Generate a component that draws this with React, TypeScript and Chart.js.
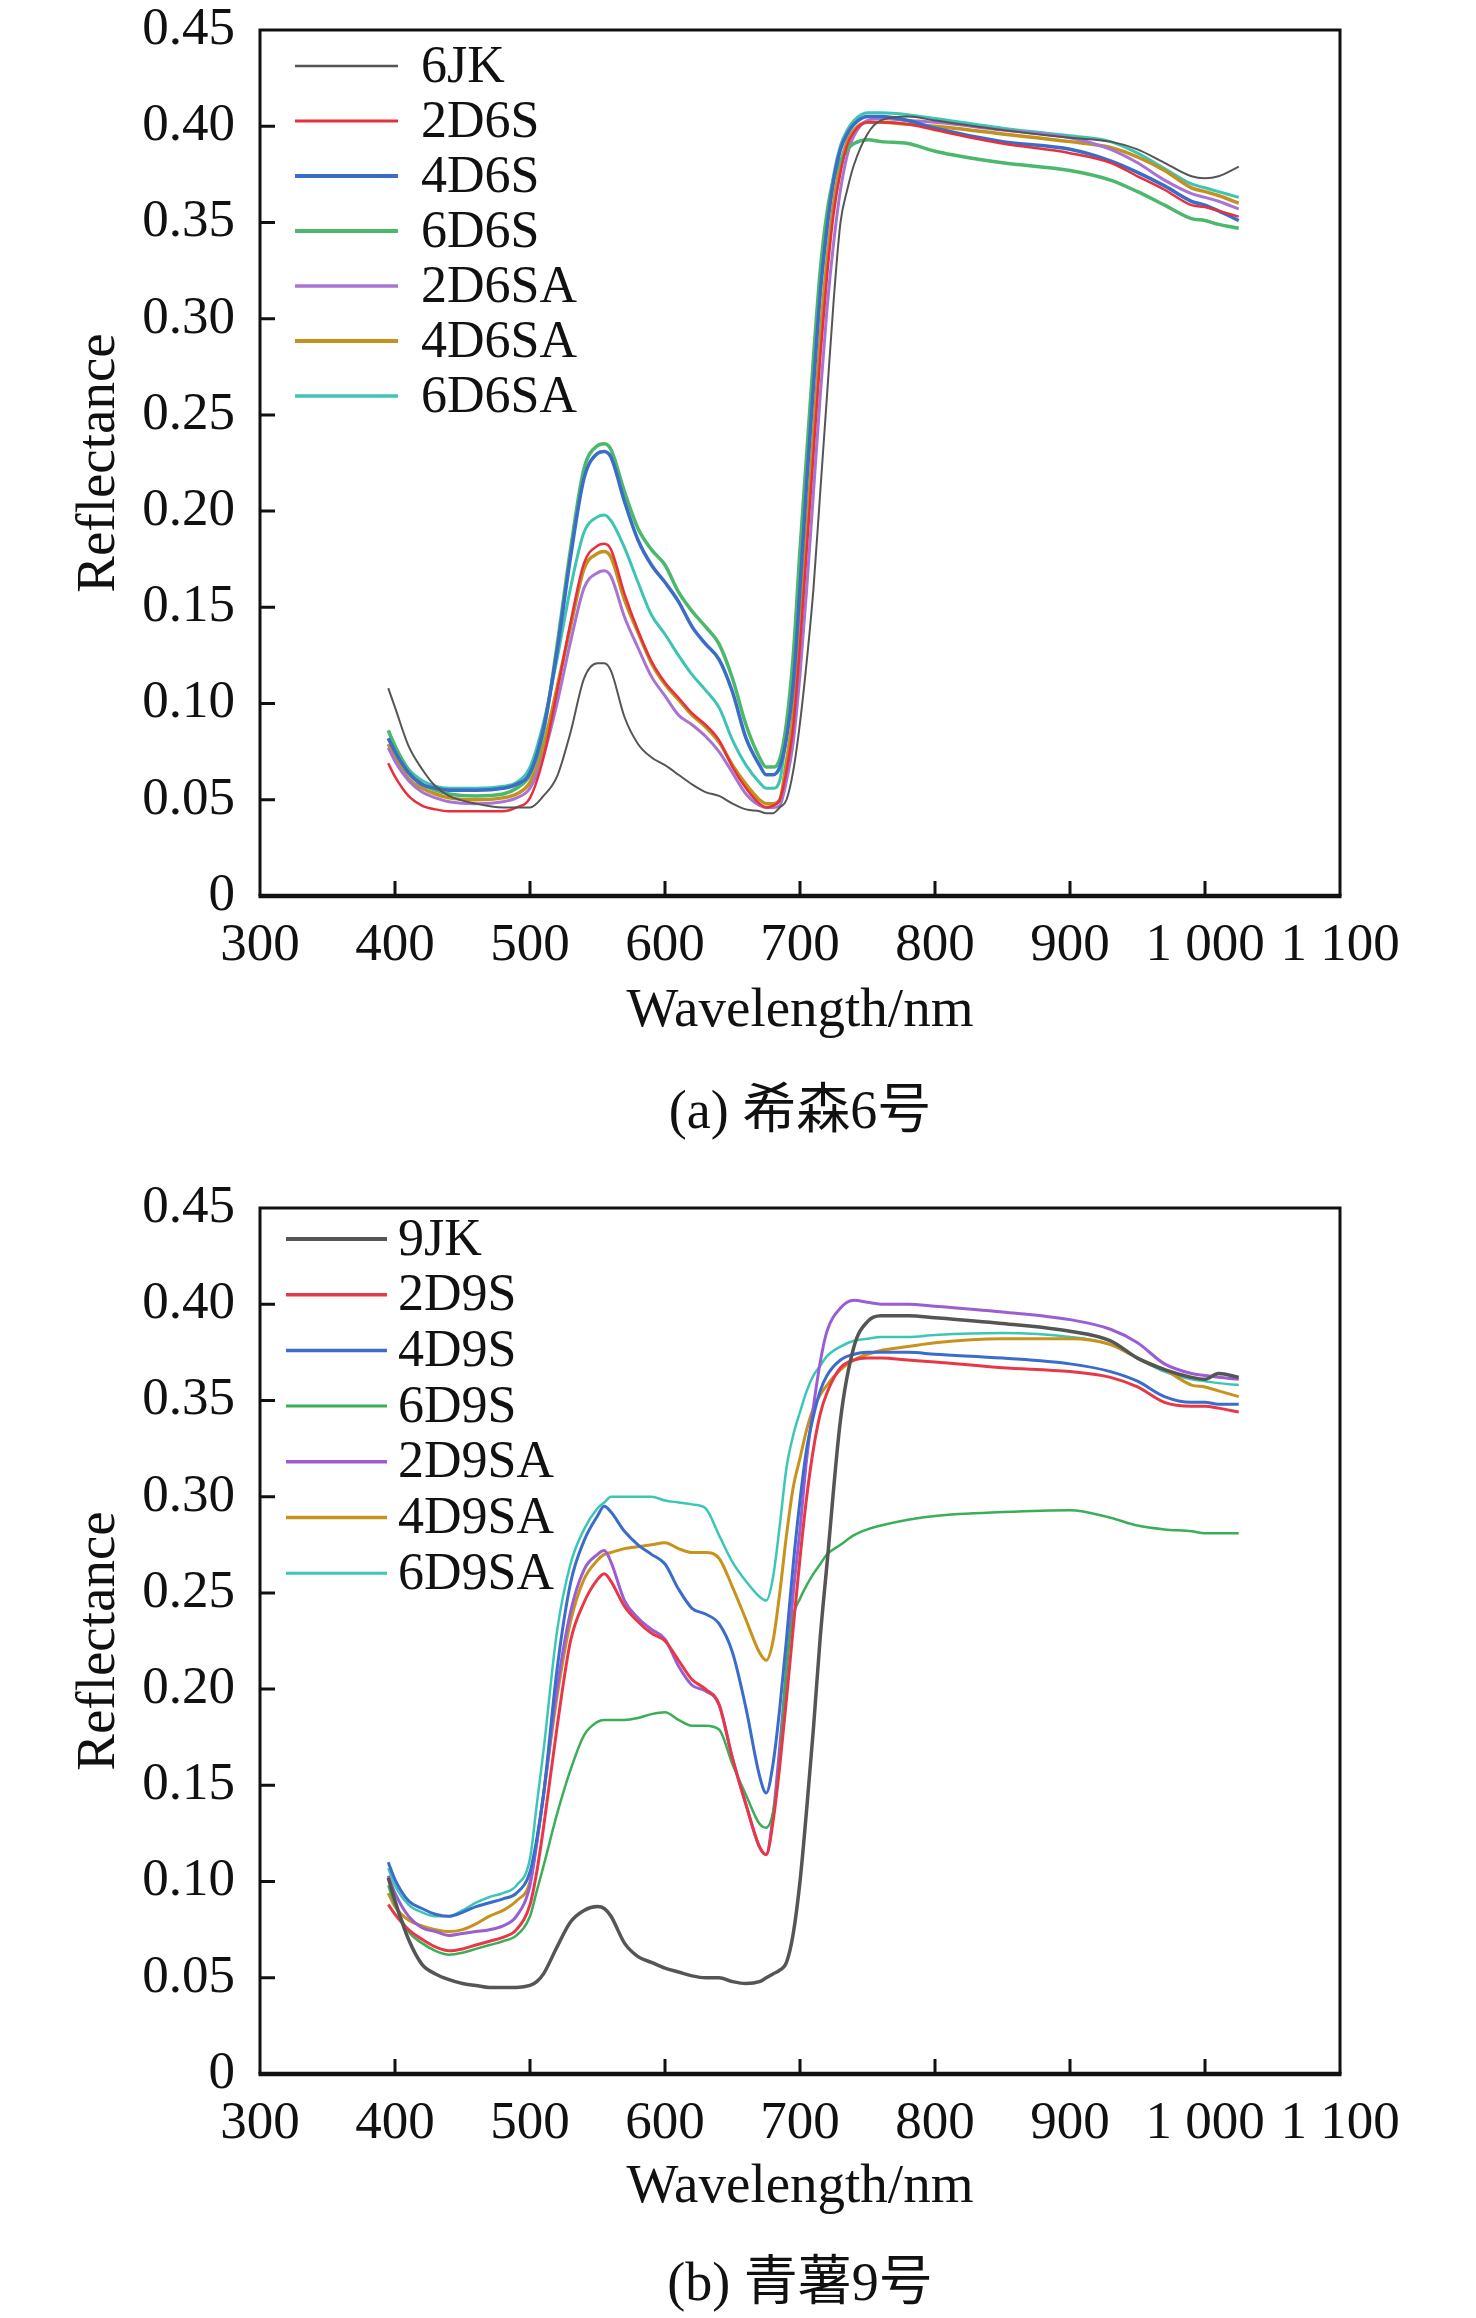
import React, { useEffect, useRef } from 'react';
import { Chart, registerables } from 'chart.js';

Chart.register(...registerables);

const FONT = "'Liberation Serif', 'Times New Roman', 'Noto Sans CJK SC', serif";

// (a) 希森6号
const wavelengthA = [395, 400, 410, 420, 430, 440, 460, 480, 490, 500, 510, 520, 530, 540, 550, 555, 560, 570, 580, 590, 600, 610, 620, 630, 640, 650, 660, 670, 675, 680, 685, 690, 695, 700, 705, 710, 715, 720, 725, 730, 735, 740, 750, 760, 780, 800, 850, 900, 930, 950, 970, 990, 1000, 1010, 1025];
const s6JK = [0.108, 0.098, 0.078, 0.066, 0.057, 0.052, 0.048, 0.046, 0.046, 0.046, 0.052, 0.062, 0.085, 0.113, 0.121, 0.121, 0.117, 0.093, 0.079, 0.072, 0.068, 0.063, 0.058, 0.054, 0.052, 0.048, 0.045, 0.044, 0.043, 0.043, 0.046, 0.05, 0.065, 0.09, 0.122, 0.16, 0.21, 0.26, 0.31, 0.35, 0.367, 0.38, 0.396, 0.403, 0.405, 0.403, 0.398, 0.394, 0.392, 0.388, 0.381, 0.374, 0.373, 0.374, 0.379];
const s2D6S = [0.069, 0.062, 0.052, 0.047, 0.045, 0.044, 0.044, 0.044, 0.046, 0.051, 0.072, 0.106, 0.142, 0.173, 0.182, 0.183, 0.18, 0.157, 0.138, 0.122, 0.111, 0.103, 0.095, 0.089, 0.081, 0.067, 0.056, 0.048, 0.046, 0.047, 0.05, 0.065, 0.088, 0.13, 0.18, 0.23, 0.28, 0.322, 0.355, 0.376, 0.39, 0.397, 0.402, 0.402, 0.401, 0.398, 0.391, 0.386, 0.381, 0.374, 0.367, 0.359, 0.358, 0.356, 0.353];
const s4D6S = [0.082, 0.075, 0.064, 0.058, 0.056, 0.055, 0.055, 0.056, 0.058, 0.064, 0.087, 0.127, 0.176, 0.217, 0.23, 0.231, 0.228, 0.205, 0.185, 0.172, 0.163, 0.153, 0.14, 0.131, 0.123, 0.106, 0.082, 0.068, 0.063, 0.063, 0.067, 0.082, 0.11, 0.16, 0.215, 0.265, 0.313, 0.347, 0.372, 0.388, 0.396, 0.401, 0.405, 0.405, 0.403, 0.399, 0.392, 0.388, 0.382, 0.376, 0.369, 0.361, 0.359, 0.356, 0.351];
const s6D6S = [0.086, 0.078, 0.065, 0.058, 0.055, 0.053, 0.052, 0.053, 0.056, 0.063, 0.085, 0.13, 0.18, 0.222, 0.234, 0.235, 0.232, 0.21, 0.191, 0.18, 0.172, 0.158, 0.148, 0.14, 0.131, 0.113, 0.089, 0.072, 0.067, 0.067, 0.071, 0.09, 0.125, 0.18, 0.23, 0.28, 0.325, 0.355, 0.373, 0.382, 0.388, 0.391, 0.393, 0.392, 0.391, 0.387, 0.381, 0.377, 0.372, 0.366, 0.359, 0.352, 0.351, 0.349, 0.347];
const s2D6SA = [0.077, 0.07, 0.06, 0.054, 0.051, 0.049, 0.048, 0.049, 0.051, 0.056, 0.073, 0.1, 0.132, 0.16, 0.168, 0.169, 0.166, 0.145, 0.129, 0.114, 0.104, 0.094, 0.089, 0.083, 0.075, 0.064, 0.053, 0.047, 0.046, 0.046, 0.047, 0.06, 0.08, 0.115, 0.16, 0.21, 0.26, 0.305, 0.34, 0.367, 0.385, 0.395, 0.403, 0.404, 0.403, 0.402, 0.398, 0.394, 0.388, 0.381, 0.372, 0.365, 0.363, 0.361, 0.357];
const s4D6SA = [0.079, 0.072, 0.061, 0.056, 0.053, 0.051, 0.05, 0.051, 0.053, 0.059, 0.078, 0.108, 0.14, 0.17, 0.178, 0.179, 0.176, 0.154, 0.137, 0.121, 0.11, 0.102, 0.094, 0.088, 0.08, 0.068, 0.058, 0.05, 0.048, 0.048, 0.05, 0.07, 0.095, 0.14, 0.19, 0.24, 0.29, 0.33, 0.36, 0.38, 0.392, 0.398, 0.402, 0.402, 0.401, 0.4, 0.396, 0.392, 0.389, 0.384, 0.377, 0.368, 0.366, 0.364, 0.36];
const s6D6SA = [0.086, 0.078, 0.066, 0.06, 0.057, 0.056, 0.056, 0.057, 0.059, 0.067, 0.09, 0.123, 0.16, 0.189, 0.197, 0.198, 0.195, 0.181, 0.163, 0.146, 0.136, 0.125, 0.115, 0.107, 0.098, 0.081, 0.068, 0.059, 0.056, 0.056, 0.06, 0.085, 0.115, 0.165, 0.22, 0.27, 0.318, 0.35, 0.375, 0.39, 0.398, 0.403, 0.407, 0.407, 0.406, 0.404, 0.399, 0.395, 0.392, 0.386, 0.378, 0.37, 0.368, 0.366, 0.363];

// (b) 青薯9号
const wavelengthB = [395, 400, 410, 420, 430, 440, 450, 460, 470, 480, 490, 500, 505, 510, 520, 530, 540, 550, 555, 560, 570, 580, 590, 600, 610, 620, 630, 640, 650, 660, 670, 675, 680, 685, 690, 695, 700, 705, 710, 715, 720, 730, 740, 750, 760, 780, 800, 850, 900, 930, 950, 970, 990, 1000, 1010, 1025];
const s9JK = [0.102, 0.09, 0.07, 0.057, 0.052, 0.049, 0.047, 0.046, 0.045, 0.045, 0.045, 0.046, 0.048, 0.052, 0.066, 0.079, 0.085, 0.087, 0.086, 0.082, 0.068, 0.061, 0.058, 0.055, 0.053, 0.051, 0.05, 0.05, 0.048, 0.047, 0.048, 0.05, 0.052, 0.054, 0.058, 0.073, 0.1, 0.138, 0.18, 0.227, 0.265, 0.34, 0.378, 0.391, 0.394, 0.394, 0.393, 0.39, 0.386, 0.381, 0.372, 0.366, 0.362, 0.361, 0.364, 0.362];
const s2D9S = [0.088, 0.083, 0.075, 0.07, 0.066, 0.064, 0.065, 0.067, 0.069, 0.071, 0.075, 0.088, 0.105, 0.128, 0.18, 0.225, 0.245, 0.257, 0.26, 0.256, 0.243, 0.235, 0.229, 0.225, 0.215, 0.205, 0.2, 0.192, 0.164, 0.14, 0.118, 0.114, 0.131, 0.16, 0.195, 0.232, 0.268, 0.3, 0.325, 0.343, 0.354, 0.367, 0.371, 0.372, 0.372, 0.371, 0.37, 0.367, 0.365, 0.362, 0.357, 0.349, 0.347, 0.347, 0.346, 0.344];
const s4D9S = [0.11, 0.101, 0.09, 0.086, 0.083, 0.082, 0.084, 0.087, 0.089, 0.091, 0.094, 0.105, 0.122, 0.145, 0.21, 0.255, 0.277, 0.29, 0.295, 0.292, 0.282, 0.275, 0.27, 0.265, 0.252, 0.242, 0.239, 0.234, 0.219, 0.19, 0.155, 0.146, 0.161, 0.19, 0.226, 0.265, 0.298, 0.325, 0.342, 0.355, 0.363, 0.371, 0.374, 0.375, 0.375, 0.375, 0.374, 0.372, 0.369, 0.365, 0.36, 0.352, 0.349, 0.349, 0.348, 0.348];
const s6D9S = [0.098, 0.088, 0.074, 0.068, 0.064, 0.062, 0.063, 0.065, 0.067, 0.069, 0.072, 0.082, 0.095, 0.108, 0.135, 0.158, 0.176, 0.183, 0.184, 0.184, 0.184, 0.185, 0.187, 0.188, 0.184, 0.181, 0.181, 0.179, 0.161, 0.145, 0.13, 0.128, 0.136, 0.162, 0.212, 0.238, 0.247, 0.254, 0.26, 0.265, 0.27, 0.275, 0.28, 0.283, 0.285, 0.288, 0.29, 0.292, 0.293, 0.289, 0.285, 0.283, 0.282, 0.281, 0.281, 0.281];
const s2D9SA = [0.103, 0.094, 0.082, 0.076, 0.074, 0.072, 0.073, 0.074, 0.075, 0.077, 0.082, 0.098, 0.12, 0.145, 0.2, 0.24, 0.262, 0.27, 0.272, 0.266, 0.246, 0.237, 0.231, 0.226, 0.212, 0.202, 0.199, 0.192, 0.164, 0.14, 0.118, 0.114, 0.134, 0.17, 0.21, 0.25, 0.283, 0.32, 0.347, 0.37, 0.386, 0.398, 0.402, 0.401, 0.4, 0.4, 0.399, 0.396, 0.392, 0.387, 0.38, 0.369, 0.364, 0.363, 0.362, 0.361];
const s4D9SA = [0.094, 0.087, 0.08, 0.077, 0.075, 0.074, 0.075, 0.078, 0.082, 0.085, 0.09, 0.1, 0.12, 0.145, 0.196, 0.235, 0.257, 0.267, 0.27, 0.271, 0.273, 0.274, 0.275, 0.276, 0.273, 0.271, 0.271, 0.268, 0.253, 0.236, 0.219, 0.215, 0.225, 0.25, 0.28, 0.305, 0.32, 0.335, 0.346, 0.353, 0.358, 0.366, 0.371, 0.374, 0.376, 0.378, 0.38, 0.382, 0.382, 0.379, 0.372, 0.366, 0.358, 0.357, 0.355, 0.352];
const s6D9SA = [0.107, 0.098, 0.088, 0.084, 0.082, 0.082, 0.085, 0.089, 0.092, 0.094, 0.098, 0.112, 0.14, 0.168, 0.23, 0.265, 0.283, 0.294, 0.297, 0.3, 0.3, 0.3, 0.3, 0.298, 0.297, 0.296, 0.294, 0.28, 0.266, 0.256, 0.248, 0.246, 0.258, 0.285, 0.315, 0.332, 0.344, 0.355, 0.363, 0.368, 0.373, 0.378, 0.381, 0.382, 0.383, 0.383, 0.384, 0.385, 0.383, 0.379, 0.372, 0.365, 0.361, 0.36, 0.359, 0.358];

const namesA = ['6JK', '2D6S', '4D6S', '6D6S', '2D6SA', '4D6SA', '6D6SA'];
const namesB = ['9JK', '2D9S', '4D9S', '6D9S', '2D9SA', '4D9SA', '6D9SA'];

const yTicks = [0, 0.05, 0.1, 0.15, 0.2, 0.25, 0.3, 0.35, 0.4, 0.45];
const xTicks = [300, 400, 500, 600, 700, 800, 900, 1000, 1100];

interface Legend {
  x0: number;
  x1: number;
  tx: number;
  y0: number;
  step: number;
}

interface SpectraProps {
  wavelengths: number[];
  series: number[][];
  names: string[];
  colors: string[];
  widths: number[];
  caption: string;
  captionGap: number;
  titleGap: number;
  legend: Legend;
}

const fmtNm = (v: number) => (v >= 1000 ? `${Math.floor(v / 1000)} ${String(v % 1000).padStart(3, '0')}` : String(v));

const Spectra: React.FC<SpectraProps> = ({ wavelengths, series, names, colors, widths, caption, captionGap, titleGap, legend }) => {
  const canvasRef = useRef<HTMLCanvasElement | null>(null);

  useEffect(() => {
    if (!canvasRef.current) return;

    // frame, inward ticks, legend box and caption
    const decor = {
      id: 'decor',
      afterDraw(chart: any) {
        const { ctx, chartArea: a, scales } = chart;
        ctx.save();
        ctx.strokeStyle = '#111';
        ctx.lineWidth = 3;
        ctx.beginPath();
        yTicks.slice(1, -1).forEach((v) => {
          const y = scales.y.getPixelForValue(v);
          ctx.moveTo(a.left, y);
          ctx.lineTo(a.left + 15, y);
        });
        xTicks.slice(1, -1).forEach((v) => {
          const x = scales.x.getPixelForValue(v);
          ctx.moveTo(x, a.bottom);
          ctx.lineTo(x, a.bottom - 15);
        });
        ctx.moveTo(a.left, a.bottom);
        ctx.lineTo(a.left, a.top);
        ctx.lineTo(a.right, a.top);
        ctx.lineTo(a.right, a.bottom);
        ctx.stroke();
        ctx.lineWidth = 4.5;
        ctx.beginPath();
        ctx.moveTo(a.left - 1.5, a.bottom);
        ctx.lineTo(a.right + 1.5, a.bottom);
        ctx.stroke();

        ctx.font = `52px ${FONT}`;
        ctx.textBaseline = 'middle';
        ctx.textAlign = 'left';
        chart.data.datasets.forEach((ds: any, i: number) => {
          const y = a.top + legend.y0 + i * legend.step;
          ctx.strokeStyle = ds.borderColor;
          ctx.lineWidth = ds.borderWidth + 0.5;
          ctx.beginPath();
          ctx.moveTo(a.left + legend.x0, y);
          ctx.lineTo(a.left + legend.x1, y);
          ctx.stroke();
          ctx.fillStyle = '#111';
          ctx.fillText(ds.label, a.left + legend.tx, y + 2);
        });

        ctx.font = `54px ${FONT}`;
        ctx.textAlign = 'center';
        ctx.fillText(caption, (a.left + a.right) / 2, a.bottom + captionGap);
        ctx.restore();
      },
    };

    const chart = new Chart(canvasRef.current, {
      type: 'line',
      data: {
        datasets: names.map((name, i) => ({
          label: name,
          data: wavelengths.map((w, j) => ({ x: w, y: series[i][j] })),
          borderColor: colors[i],
          borderWidth: widths[i],
          pointRadius: 0,
          fill: false,
          tension: 0.4,
          cubicInterpolationMode: 'monotone' as const,
        })),
      },
      options: {
        responsive: false,
        animation: false,
        devicePixelRatio: 1,
        layout: { padding: { left: 0, right: 136, top: 30, bottom: 0 } },
        plugins: { legend: { display: false }, tooltip: { enabled: false } },
        scales: {
          x: {
            type: 'linear',
            min: 300,
            max: 1100,
            afterBuildTicks: (s: any) => {
              s.ticks = xTicks.map((v) => ({ value: v }));
            },
            ticks: {
              padding: 16,
              color: '#111',
              maxRotation: 0,
              autoSkip: false,
              font: { family: FONT, size: 53, lineHeight: 1 },
              callback: (v: any) => fmtNm(Number(v)),
            },
            grid: { display: false },
            border: { display: false },
            title: {
              display: true,
              text: 'Wavelength/nm',
              color: '#111',
              font: { family: FONT, size: 55 },
              padding: { top: 0, bottom: titleGap },
            },
            afterFit: (s: any) => {
              s.height = 245;
            },
          },
          y: {
            type: 'linear',
            min: 0,
            max: 0.45,
            afterBuildTicks: (s: any) => {
              s.ticks = yTicks.map((v) => ({ value: v }));
            },
            ticks: {
              padding: 17,
              color: '#111',
              // tiny line height keeps the end labels from pushing the plot area down
              font: { family: FONT, size: 53, lineHeight: 0.1 },
              callback: (v: any) => (Number(v) === 0 ? '0' : Number(v).toFixed(2)),
            },
            grid: { display: false },
            border: { display: false },
            title: {
              display: true,
              text: 'Reflectance',
              color: '#111',
              font: { family: FONT, size: 55 },
              padding: { top: 67, bottom: 0 },
            },
            afterFit: (s: any) => {
              s.width = 260;
            },
          },
        },
      },
      plugins: [decor],
    });

    return () => {
      chart.destroy();
    };
  }, []);

  return <canvas ref={canvasRef} width={1476} height={1141} style={{ display: 'block', width: 1476, height: 1141 }} />;
};

const App: React.FC = () => (
  <div style={{ position: 'absolute', left: 0, top: 0, width: 1476, height: 2318, background: '#fff', overflow: 'hidden' }}>
    <div style={{ position: 'absolute', left: 0, top: 0 }}>
      <Spectra
        wavelengths={wavelengthA}
        series={[s6JK, s2D6S, s4D6S, s6D6S, s2D6SA, s4D6SA, s6D6SA]}
        names={namesA}
        colors={['#555555', '#e8303c', '#3a6cc8', '#4bb86b', '#a874d4', '#c4901e', '#3ec4b2']}
        widths={[2, 2.5, 3.5, 3.5, 3, 3.5, 3]}
        caption="(a) 希森6号"
        captionGap={218}
        titleGap={96}
        legend={{ x0: 35, x1: 138, tx: 161, y0: 36, step: 55 }}
      />
    </div>
    <div style={{ position: 'absolute', left: 0, top: 1178 }}>
      <Spectra
        wavelengths={wavelengthB}
        series={[s9JK, s2D9S, s4D9S, s6D9S, s2D9SA, s4D9SA, s6D9SA]}
        names={namesB}
        colors={['#555555', '#e83848', '#3a6ccc', '#3aae58', '#9a5ed2', '#c8921c', '#3cc6b6']}
        widths={[3.5, 3, 3, 2.5, 3, 3, 2.5]}
        caption="(b) 青薯9号"
        captionGap={212}
        titleGap={98}
        legend={{ x0: 26, x1: 127, tx: 138, y0: 31, step: 55.7 }}
      />
    </div>
  </div>
);

export default App;
